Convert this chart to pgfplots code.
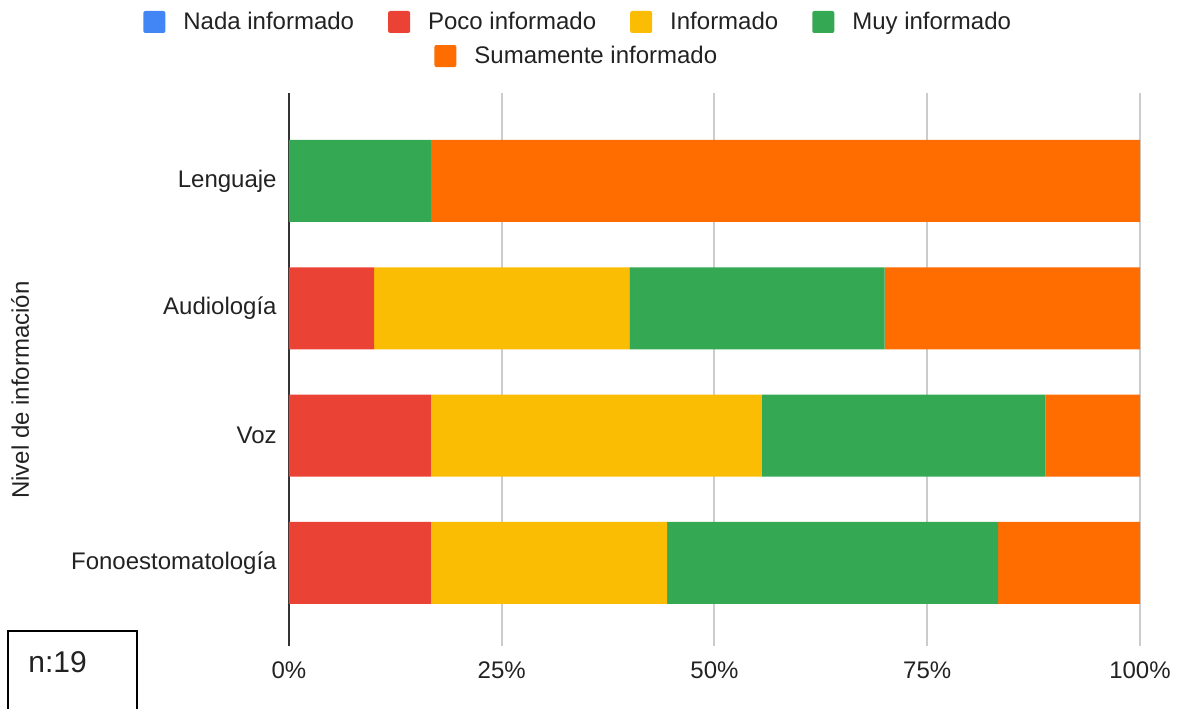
\documentclass[border=0pt]{standalone}
\usepackage{fontspec}
\setmainfont{Liberation Sans}
\usepackage{pgfplots}
\pgfplotsset{compat=1.18}

\definecolor{blueC}{HTML}{4285F4}
\definecolor{redC}{HTML}{EA4335}
\definecolor{yellowC}{HTML}{FBBC04}
\definecolor{greenC}{HTML}{34A853}
\definecolor{orangeC}{HTML}{FF6D01}
\definecolor{gridC}{HTML}{CCCCCC}
\definecolor{axisC}{HTML}{333333}
\definecolor{textC}{HTML}{222222}

\pgfplotsset{
  sqimage/.style={
    legend image code/.code={\fill[##1, rounded corners=1pt] (0pt,-5.5pt) rectangle (11pt,5.5pt);},
  },
  sqlegend/.style={
    sqimage,
    every axis plot post/.append style={sqimage},
    legend style={draw=none, fill=none, inner sep=0pt, text=textC,
      font=\fontsize{12}{14}\selectfont,
      cells={anchor=west},
      /tikz/every odd column/.append style={column sep=7pt},
      /tikz/every even column/.append style={column sep=15pt}},
  },
  common/.style={
    at={(144.5pt,-323pt)}, anchor=south west,
    scale only axis, width=425.5pt, height=276.5pt,
  },
}

\begin{document}
\begin{tikzpicture}[font=\fontsize{12}{14}\selectfont]
\useasboundingbox (0,0) rectangle (592.5pt,-354pt);

\begin{axis}[
  common, sqlegend,
  xbar stacked, bar width=41pt,
  xmin=0, xmax=100, ymin=-0.652, ymax=3.691,
  ytick={0,1,2,3},
  yticklabels={Fonoestomatología,Voz,Audiología,Lenguaje},
  xtick={0,25,50,75,100},
  xticklabels={0\%,25\%,50\%,75\%,100\%},
  major tick length=0pt, tick style={draw=none},
  xmajorgrids, grid style={color=gridC, line width=1pt},
  axis line style={draw=none},
  extra x ticks={0}, extra x tick labels={},
  extra x tick style={grid style={color=axisC, line width=0.75pt}},
  yticklabel style={inner sep=0pt, xshift=-6pt, text=textC},
  xticklabel style={inner sep=0pt, yshift=-7.5pt, text=textC},
  ylabel={Nivel de información},
  ylabel style={at={(axis description cs:-0.316,0.463)}, rotate=0, anchor=center, text=textC},
  legend columns=4,
  legend style={at={(axis description cs:-0.1716,1.1284)}, anchor=west},
]
\addplot[fill=blueC, draw=none] coordinates {(0,0) (0,1) (0,2) (0,3)};
\addplot[fill=redC, draw=none] coordinates {(16.66,0) (16.67,1) (10,2) (0,3)};
\addplot[fill=yellowC, draw=none] coordinates {(27.78,0) (38.89,1) (30,2) (0,3)};
\addplot[fill=greenC, draw=none] coordinates {(38.89,0) (33.33,1) (30,2) (16.67,3)};
\addplot[fill=orangeC, draw=none] coordinates {(16.67,0) (11.11,1) (30,2) (83.33,3)};
\legend{Nada informado, Poco informado, Informado, Muy informado}
\end{axis}

\begin{axis}[
  common, sqlegend, hide axis,
  xmin=0, xmax=1, ymin=0, ymax=1,
  legend style={at={(axis description cs:0.1704,1.0669)}, anchor=west},
]
\addlegendimage{fill=orangeC, draw=none}
\addlegendentry{Sumamente informado}
\end{axis}

\draw[black, line width=1pt] (4pt,-315.5pt) rectangle (68.5pt,-370pt);
\node[anchor=base west, inner sep=0pt, text=textC, font=\fontsize{15}{18}\selectfont] at (14pt,-336pt) {n:19};
\end{tikzpicture}
\end{document}
